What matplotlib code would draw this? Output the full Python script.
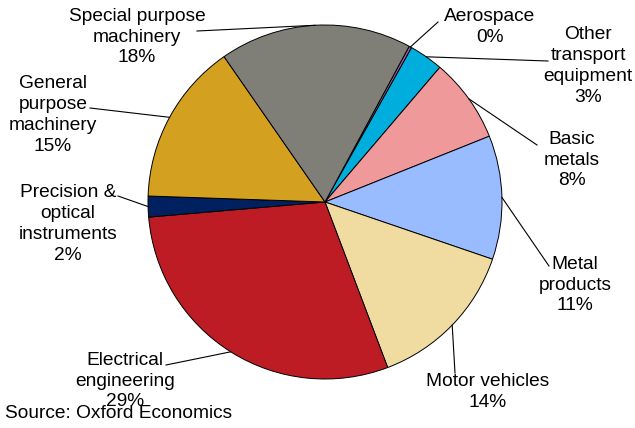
import matplotlib.pyplot as plt
import numpy as np

plt.rcParams['font.family'] = ['Liberation Sans', 'DejaVu Sans']

# datos (porcentajes)
sectores = ['Aerospace', 'Other\ntransport\nequipment', 'Basic\nmetals', 'Metal\nproducts',
            'Motor vehicles', 'Electrical\nengineering', 'Precision &\noptical\ninstruments',
            'General\npurpose\nmachinery', 'Special purpose\nmachinery']
valores = [0.25, 3.1, 7.7, 11.3, 14.0, 29.4, 1.9, 14.8, 17.55]
colores = ['#9A5FA6', '#00AEDD', '#F0999B', '#99BBFF', '#F0DCA0',
           '#BE1C24', '#002060', '#D4A020', '#7F7F78']

# posiciones de las etiquetas (pixeles, y hacia abajo) y fin de la linea guia
pos_texto = [(490, 27), (588, 66), (572, 160), (575, 285), (488, 392),
             (125, 381), (68, 224), (53, 115), (137, 37)]
fin_guia = [(438, 22), (548, 61), (537, 145), (549, 266), (455, 373),
            (166, 365), (118, 196), (90, 108), (197, 31)]

W, H = 635, 428
cx, cy, r = 325, 202, 177

fig = plt.figure(figsize=(W / 100, H / 100), dpi=100)
ax = fig.add_axes([0, 0, 1, 1])

wedges, _ = ax.pie(valores, colors=colores, startangle=61.6, counterclock=False,
                   center=(cx, H - cy), radius=r, frame=True,
                   wedgeprops=dict(edgecolor='black', linewidth=0.7))
ax.set_xlim(0, W)
ax.set_ylim(0, H)
ax.set_aspect('equal')
ax.axis('off')

for w, nombre, v, (tx, ty), (gx, gy) in zip(wedges, sectores, valores, pos_texto, fin_guia):
    ang = np.deg2rad((w.theta1 + w.theta2) / 2)
    px = cx + r * np.cos(ang)
    py = H - cy + r * np.sin(ang)
    ax.plot([px, gx], [py, H - gy], color='black', linewidth=0.8)
    ax.text(tx, H - ty, f'{nombre}\n{round(v):.0f}%', ha='center', va='center',
            fontsize=13.8, linespacing=1.3)

ax.text(5, H - 413, 'Source: Oxford Economics', ha='left', va='center', fontsize=13.8)

fig.savefig('out.png', dpi=100)
